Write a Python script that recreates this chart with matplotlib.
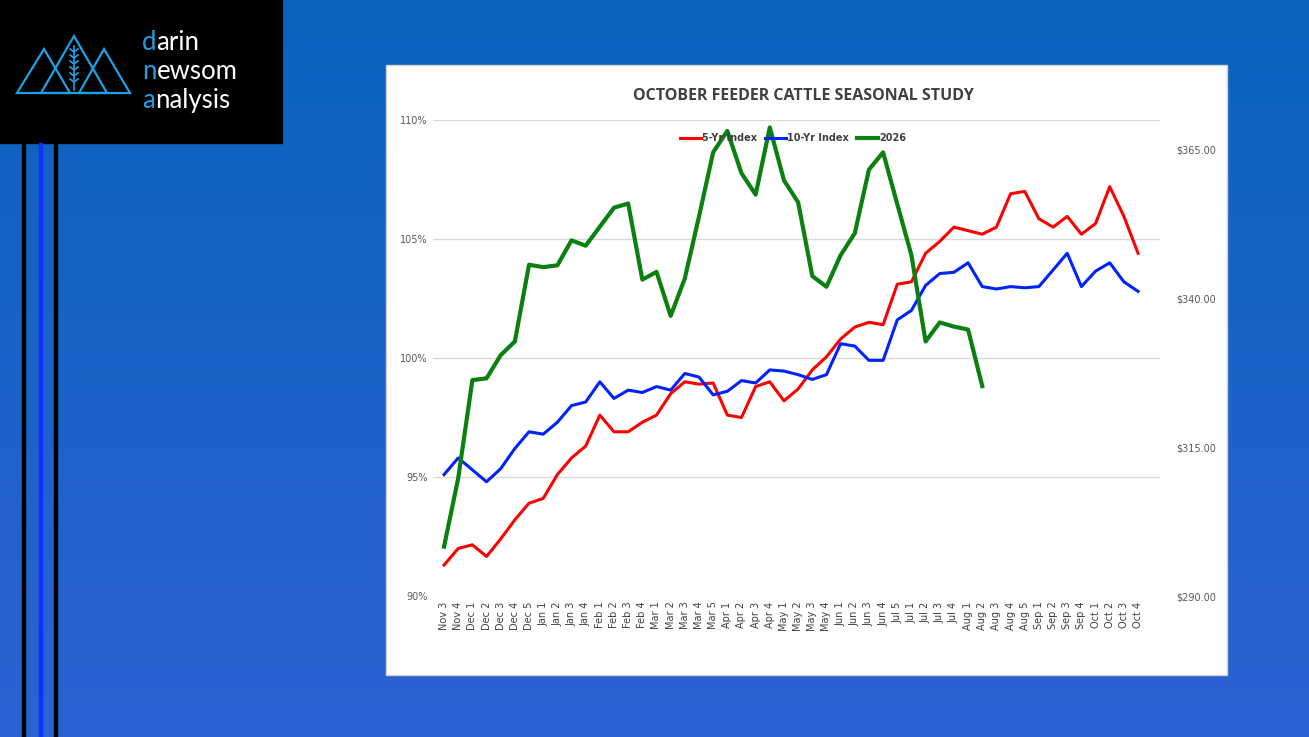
import numpy as np
import matplotlib
matplotlib.use("Agg")
import matplotlib.pyplot as plt
from matplotlib.patches import Rectangle, Polygon
from matplotlib.colors import LinearSegmentedColormap

categories = ["Nov 3","Nov 4","Dec 1","Dec 2","Dec 3","Dec 4","Dec 5","Jan 1","Jan 2","Jan 3","Jan 4",
              "Feb 1","Feb 2","Feb 3","Feb 4","Mar 1","Mar 2","Mar 3","Mar 4","Mar 5",
              "Apr 1","Apr 2","Apr 3","Apr 4","May 1","May 2","May 3","May 4",
              "Jun 1","Jun 2","Jun 3","Jun 4","Jul 5","Jul 1","Jul 2","Jul 3","Jul 4",
              "Aug 1","Aug 2","Aug 3","Aug 4","Aug 5","Sep 1","Sep 2","Sep 3","Sep 4",
              "Oct 1","Oct 2","Oct 3","Oct 4"]

index_5yr = [91.3,92.0,92.15,91.66,92.4,93.2,93.9,94.1,95.1,95.8,96.3,
             97.6,96.9,96.9,97.3,97.6,98.5,99.0,98.9,98.95,
             97.6,97.5,98.8,99.0,98.2,98.7,99.5,100.05,
             100.8,101.3,101.5,101.4,103.1,103.2,104.4,104.9,105.5,
             105.35,105.2,105.5,106.9,107.0,105.85,105.5,105.95,105.2,
             105.65,107.2,105.95,104.4]

index_10yr = [95.1,95.8,95.3,94.8,95.35,96.2,96.9,96.8,97.3,98.0,98.15,
              99.0,98.3,98.65,98.55,98.8,98.65,99.35,99.2,98.45,
              98.6,99.05,98.95,99.5,99.45,99.3,99.1,99.3,
              100.6,100.5,99.9,99.9,101.6,102.0,103.05,103.55,103.6,
              104.0,103.0,102.9,103.0,102.95,103.0,103.7,104.4,103.0,
              103.65,104.0,103.2,102.8]

price_2026 = [298.3,309.8,326.3,326.6,330.5,332.8,345.7,345.3,345.6,349.8,348.9,
              352.1,355.3,356.0,343.2,344.5,337.1,343.4,353.8,364.6,
              368.2,361.1,357.5,368.8,359.9,356.2,343.8,342.0,
              347.3,351.0,361.7,364.6,355.9,347.3,332.8,336.0,335.3,
              334.8,325.3]

left_ticks = [90, 95, 100, 105, 110]
left_labels = ["90%", "95%", "100%", "105%", "110%"]
right_ticks = [290, 315, 340, 365]
right_labels = ["$290.00", "$315.00", "$340.00", "$365.00"]

W, H = 1309, 737
fig = plt.figure(figsize=(W/100, H/100), dpi=100)

def fx(px): return px / W
def fy(py): return 1 - py / H

bg = fig.add_axes([0, 0, 1, 1])
grad = np.linspace(0, 1, 256).reshape(-1, 1)
cmap = LinearSegmentedColormap.from_list("bg", ["#0a63bd", "#2c62d2"])
bg.imshow(grad, aspect="auto", cmap=cmap, extent=[0, W, H, 0])
bg.set_xlim(0, W); bg.set_ylim(H, 0); bg.axis("off")

bg.add_patch(Rectangle((0, 0), 282, 143, color="black", zorder=2))
for x0, c in [(23, "black"), (40, "#1030ff"), (55, "black")]:
    bg.add_patch(Rectangle((x0 - 1.5, 143), 3, H - 143, color=c, zorder=2))
lb = "#1ea0e6"
for tri in [[(17, 93), (44, 49), (70, 93)], [(41, 93), (74, 36), (107, 93)], [(79, 93), (104, 49), (130, 93)]]:
    bg.add_patch(Polygon(tri, closed=True, fill=False, edgecolor=lb, lw=1.6, zorder=3))
bg.plot([74, 74], [46, 90], color=lb, lw=1.2, zorder=3)
for yy in range(52, 86, 6):
    bg.plot([70, 74, 78], [yy - 3, yy, yy - 3], color=lb, lw=1.2, zorder=3)
for yy, first, rest in [(42, "d", "arin"), (71, "n", "ewsom"), (100, "a", "nalysis")]:
    t = bg.text(142, yy, first, color=lb, fontsize=18.5, va="center", ha="left", family="Lato", zorder=4)
    bg.annotate(rest, xycoords=t, xy=(1, 0.5), va="center", ha="left", color="white",
                fontsize=18.5, family="Lato", zorder=4)

bg.add_patch(Rectangle((386, 65), 841, 610, facecolor="white", edgecolor="#d0d0d0", lw=1, zorder=2))

ax = fig.add_axes([fx(433), fy(596), fx(1160) - fx(433), fy(120) - fy(596)])
ax.set_facecolor("none")
x = np.arange(len(categories))
ax.set_xlim(-0.78, 50.55)
ax.set_ylim(90, 110)
for v in left_ticks:
    ax.axhline(v, color="#d9d9d9", lw=1, zorder=0)
ax.plot(x, index_5yr, color="#ff0000", lw=2.2, label="5-Yr Index", zorder=3)
ax.plot(x, index_10yr, color="#0022ff", lw=2.2, label="10-Yr Index", zorder=3)
ax.set_yticks(left_ticks)
ax.set_yticklabels(left_labels, fontsize=7, color="#595959")
ax.set_xticks(x)
ax.set_xticklabels(categories, rotation=90, fontsize=7, color="#404040")
ax.tick_params(length=0, pad=4)
for s in ax.spines.values():
    s.set_visible(False)

ax2 = ax.twinx()
ax2.set_ylim(290, 290 + 476 / 5.947)
ax2.plot(np.arange(len(price_2026)), price_2026, color="#0a8010", lw=3, label="2026", zorder=3)
ax2.set_yticks(right_ticks)
ax2.set_yticklabels(right_labels, fontsize=7, color="#595959")
ax2.tick_params(length=0, pad=12)
for s in ax2.spines.values():
    s.set_visible(False)

h1, l1 = ax.get_legend_handles_labels()
h2, l2 = ax2.get_legend_handles_labels()
fig.legend(h1 + h2, l1 + l2, loc="center", bbox_to_anchor=(fx(793), fy(138)), ncol=3, frameon=False,
           prop={"size": 7, "weight": "bold"}, labelcolor="#404040", handlelength=2.2,
           handletextpad=0.1, columnspacing=0.8)

fig.text(fx(803), fy(96), "OCTOBER FEEDER CATTLE SEASONAL STUDY", ha="center", va="center",
         fontsize=11.5, fontweight="bold", color="#404040", family="Open Sans")

fig.savefig("out.png", dpi=100)
